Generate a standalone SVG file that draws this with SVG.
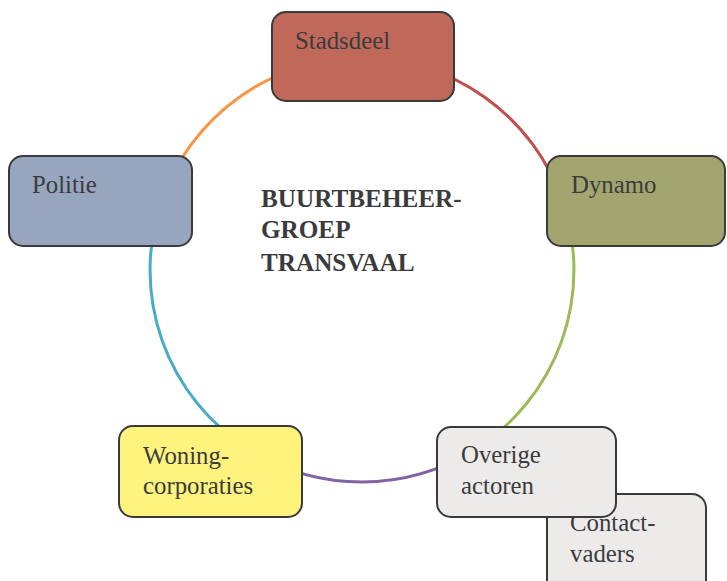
<svg xmlns="http://www.w3.org/2000/svg" width="727" height="581" viewBox="0 0 727 581">
  <style>
    .box { stroke: #3a3a3c; stroke-width: 2; }
    .lbl { font-family: "Liberation Serif", "Times New Roman", serif; font-size: 24.8px; fill: #3b3b3d; }
    .title { font-family: "Liberation Serif", "Times New Roman", serif; font-size: 25.2px; font-weight: bold; fill: #3b3b3d; }
    .arc { fill: none; stroke-width: 3; }
  </style>
  <rect width="727" height="581" fill="#ffffff"/>

  <!-- ring of connectors -->
  <g id="connectors">
    <path class="arc" stroke="#c0504d" d="M362,58 A212,212 0 0 1 562.4,201"/>
    <path class="arc" stroke="#9bbb59" d="M562.4,201 A212,212 0 0 1 474.3,449.8"/>
    <path class="arc" stroke="#8064a2" d="M474.3,449.8 A212,212 0 0 1 249.7,449.8"/>
    <path class="arc" stroke="#4bacc6" d="M249.7,449.8 A212,212 0 0 1 161.6,201"/>
    <path class="arc" stroke="#f79646" d="M161.6,201 A212,212 0 0 1 362,58"/>
  </g>

  <g id="center-title">
    <text class="title" x="261" y="207">BUURTBEHEER-</text>
    <text class="title" x="261" y="238">GROEP</text>
    <text class="title" x="261" y="271">TRANSVAAL</text>
  </g>

  <g id="stadsdeel">
    <rect class="box" x="272" y="12" width="182" height="89" rx="14" fill="#c0695a"/>
    <text class="lbl" x="295" y="49">Stadsdeel</text>
  </g>

  <g id="dynamo">
    <rect class="box" x="547" y="156" width="178" height="90" rx="14" fill="#a3a570"/>
    <text class="lbl" x="571" y="193">Dynamo</text>
  </g>

  <g id="politie">
    <rect class="box" x="9" y="156" width="183" height="90" rx="14" fill="#97a6be"/>
    <text class="lbl" x="32" y="193">Politie</text>
  </g>

  <g id="woningcorporaties">
    <rect class="box" x="119" y="426" width="183" height="91" rx="14" fill="#fef47d"/>
    <text class="lbl" x="143" y="464">Woning-</text>
    <text class="lbl" x="143" y="494">corporaties</text>
  </g>

  <g id="contactvaders">
    <rect class="box" x="547" y="494" width="159" height="100" rx="14" fill="#ecebea"/>
    <text class="lbl" x="570" y="531">Contact-</text>
    <text class="lbl" x="570" y="562">vaders</text>
  </g>

  <g id="overige-actoren">
    <rect class="box" x="437" y="427" width="179" height="90" rx="14" fill="#ecebea"/>
    <text class="lbl" x="461" y="463">Overige</text>
    <text class="lbl" x="461" y="494">actoren</text>
  </g>
</svg>
